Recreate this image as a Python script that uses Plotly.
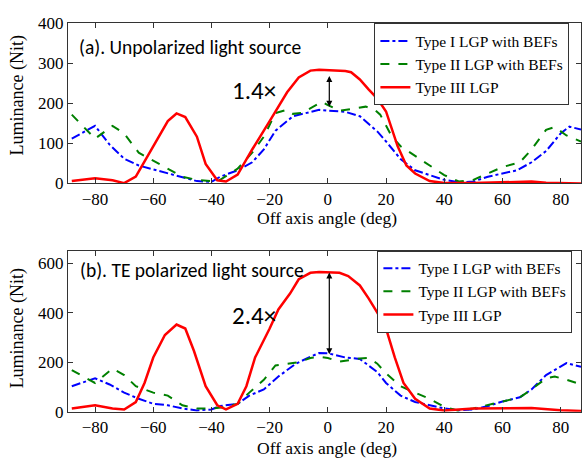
import plotly.graph_objects as go

# ---------------- data ----------------
# (a) Unpolarized light source
ANG_A_I = [-88, -80, -75, -70, -65, -60, -55, -50, -45, -40, -37, -31, -26, -22, -18, -12, -7, -3, 0, 6, 11, 14, 17, 20, 25, 30, 35, 40, 45, 50, 55, 60, 65, 70, 75, 80, 83, 87]
LUM_A_I = [112, 144, 97, 62, 45, 35, 25, 16, 6, 4, 17, 33, 53, 85, 132, 168, 176, 184, 182, 179, 168, 150, 130, 105, 61, 33, 21, 9, 3, 5, 17, 25, 33, 53, 81, 125, 142, 135]

ANG_A_II = [-88, -80, -74, -70, -65, -60, -55, -50, -45, -40, -37, -31, -26, -22, -18, -14, -12, -9, -5, -2, 0, 4, 8, 13, 16, 18, 22, 25, 30, 35, 40, 45, 50, 55, 60, 66, 70, 75, 78, 82, 87]
LUM_A_II = [172, 112, 144, 125, 77, 57, 35, 17, 9, 6, 9, 37, 77, 117, 176, 184, 174, 176, 192, 204, 196, 182, 186, 192, 185, 172, 117, 93, 69, 45, 21, 5, 9, 25, 41, 53, 85, 134, 141, 120, 105]

ANG_A_III = [-88, -80, -74, -70, -66, -60, -55, -52, -49, -45, -42, -38, -35, -31, -26, -20, -14, -10, -6, -3, 0, 6, 8, 11, 14, 17, 20, 22, 24, 27, 30, 35, 40, 50, 60, 70, 75, 87]
LUM_A_III = [6, 13, 8, 1, 17, 93, 156, 175, 166, 117, 49, 8, 5, 22, 85, 156, 228, 265, 282, 284, 283, 281, 278, 260, 235, 212, 180, 137, 93, 45, 25, 6, 1, 1, 3, 5, 2, 0]

# (b) TE polarized light source
ANG_B_I = [-88, -80, -75, -70, -65, -60, -55, -50, -45, -40, -37, -31, -27, -22, -17, -11, -6, -3, 0, 6, 11, 14, 17, 20, 25, 30, 35, 40, 45, 50, 55, 60, 66, 70, 75, 78, 82, 87]
LUM_B_I = [103, 135, 110, 77, 52, 32, 26, 13, 5, 9, 23, 32, 65, 90, 142, 194, 222, 237, 236, 219, 213, 187, 160, 116, 65, 39, 26, 13, 6, 9, 23, 41, 58, 90, 148, 168, 196, 181]

ANG_B_II = [-88, -80, -74, -70, -66, -60, -55, -50, -45, -40, -35, -31, -27, -22, -18, -13, -10, -6, -3, 0, 4, 6, 11, 14, 17, 20, 25, 30, 35, 40, 45, 50, 55, 60, 66, 70, 75, 78, 82, 87]
LUM_B_II = [168, 116, 174, 148, 103, 77, 65, 26, 13, 13, 19, 32, 77, 129, 187, 194, 200, 217, 222, 217, 202, 206, 215, 217, 194, 155, 103, 77, 52, 19, 4, 13, 26, 41, 58, 90, 135, 142, 129, 110]

ANG_B_III = [-88, -80, -74, -70, -66, -63, -60, -56, -52, -49, -46, -42, -38, -35, -31, -28, -25, -20, -17, -13, -10, -6, -3, 0, 4, 7, 11, 14, 17, 20, 23, 26, 30, 35, 40, 50, 60, 70, 80, 87]
LUM_B_III = [13, 26, 13, 9, 39, 116, 219, 310, 352, 336, 245, 103, 26, 9, 32, 103, 219, 336, 413, 477, 535, 561, 564, 564, 561, 548, 510, 458, 400, 336, 219, 116, 52, 13, 5, 13, 13, 15, 6, 3]

SERIES_NAMES = ["Type I LGP with BEFs", "Type II LGP with BEFs", "Type III LGP"]
X_TICKS = [-80, -60, -40, -20, 0, 20, 40, 60, 80]
Y_TICKS_A = [0, 100, 200, 300, 400]
Y_TICKS_B = [0, 200, 400, 600]

# ---------------- style ----------------
SERIF = "Liberation Serif, Times New Roman, serif"
SANS = "Carlito, Liberation Sans, Arial, sans-serif"
COLORS = ["#0000ff", "#008000", "#ff0000"]
DASHES = ["dashdot", "dash", "solid"]
WIDTHS = [2, 2, 2.5]

W, H = 582, 461
L = 68

fig = go.Figure()

panels = [
    ("x", "y", "legend", [(ANG_A_I, LUM_A_I), (ANG_A_II, LUM_A_II), (ANG_A_III, LUM_A_III)]),
    ("x2", "y2", "legend2", [(ANG_B_I, LUM_B_I), (ANG_B_II, LUM_B_II), (ANG_B_III, LUM_B_III)]),
]
for xa, ya, lg, data in panels:
    for i, (xs, ys) in enumerate(data):
        fig.add_trace(go.Scatter(
            x=xs, y=ys, mode="lines", name=SERIES_NAMES[i],
            xaxis=xa, yaxis=ya, legend=lg,
            line=dict(color=COLORS[i], dash=DASHES[i], width=WIDTHS[i]),
        ))

def px_to_paper_y(py):
    return 1 - py / H

XR = [-89.3, 87.0]
axis_common = dict(
    showgrid=False, zeroline=False, showline=True, linecolor="#333", linewidth=1,
    mirror="allticks", ticks="inside", ticklen=5, tickcolor="#333",
    tickfont=dict(family=SERIF, size=17, color="black"),
)

fig.update_layout(
    width=W, height=H,
    margin=dict(l=L, r=0, t=0, b=0),
    paper_bgcolor="white", plot_bgcolor="white",
    showlegend=True,
    xaxis=dict(axis_common, range=XR, tickvals=X_TICKS, domain=[0, 1], anchor="y"),
    yaxis=dict(axis_common, range=[0, 400], tickvals=Y_TICKS_A,
               domain=[px_to_paper_y(182), px_to_paper_y(15)], anchor="x"),
    xaxis2=dict(axis_common, range=XR, tickvals=X_TICKS, domain=[0, 1], anchor="y2"),
    yaxis2=dict(axis_common, range=[0, 648], tickvals=Y_TICKS_B,
                domain=[px_to_paper_y(420), px_to_paper_y(252.7)], anchor="x2"),
    legend=dict(x=(375 - L) / (W - L), y=px_to_paper_y(15), xanchor="left", yanchor="top",
                bgcolor="white", bordercolor="#333", borderwidth=1,
                font=dict(family=SERIF, size=15.5, color="black"), tracegroupgap=0),
    legend2=dict(x=(378 - L) / (W - L), y=px_to_paper_y(252), xanchor="left", yanchor="top",
                 bgcolor="white", bordercolor="#333", borderwidth=1,
                 font=dict(family=SERIF, size=15.5, color="black"), tracegroupgap=0),
)

ann = []
# axis titles
for cy in (90, 333):
    ann.append(dict(text="Luminance (Nit)", xref="paper", yref="paper",
                    x=(17 - L) / (W - L), y=px_to_paper_y(cy), showarrow=False,
                    textangle=-90, font=dict(family=SERIF, size=18, color="black"),
                    xanchor="center", yanchor="middle"))
# x-axis titles: placed with an invisible zero-length arrow offset so they may run off the page edge
for cy in (206, 446):
    ann.append(dict(text="Off axis angle (deg)", xref="paper", yref="paper",
                    x=(328 - L) / (W - L), y=px_to_paper_y(cy), showarrow=True,
                    ax=0, ay=11, arrowcolor="rgba(0,0,0,0)", arrowwidth=0.1,
                    font=dict(family=SERIF, size=17.5, color="black"),
                    xanchor="center", yanchor="middle"))
# panel labels
ann.append(dict(text="(a). Unpolarized light source", xref="x", yref="y", x=-86.3, y=342,
                showarrow=False, xanchor="left", yanchor="middle",
                font=dict(family=SANS, size=19.5, color="black")))
ann.append(dict(text="(b). TE polarized light source", xref="x2", yref="y2", x=-86.0, y=574,
                showarrow=False, xanchor="left", yanchor="middle",
                font=dict(family=SANS, size=19.5, color="black")))
# ratio labels
ann.append(dict(text="1.4\u00d7", xref="x", yref="y", x=-25.5, y=232, showarrow=False,
                font=dict(family=SANS, size=25, color="black")))
ann.append(dict(text="2.4\u00d7", xref="x2", yref="y2", x=-25.5, y=387, showarrow=False,
                font=dict(family=SANS, size=25, color="black")))
# double-headed arrows
ann.append(dict(text="", xref="x", yref="y", axref="x", ayref="y", x=0.5, y=192, ax=0.5, ay=272,
                showarrow=True, arrowhead=2, startarrowhead=2, arrowside="end+start",
                arrowsize=1, arrowwidth=1.2, arrowcolor="black", standoff=0, startstandoff=0))
ann.append(dict(text="", xref="x2", yref="y2", axref="x2", ayref="y2", x=0.5, y=232, ax=0.5, ay=568,
                showarrow=True, arrowhead=2, startarrowhead=2, arrowside="end+start",
                arrowsize=1, arrowwidth=1.2, arrowcolor="black", standoff=0, startstandoff=0))
fig.update_layout(annotations=ann)

fig.write_html("out.html", config={"displayModeBar": False},
               post_script="document.body.style.margin='0';document.body.style.overflow='hidden';")
